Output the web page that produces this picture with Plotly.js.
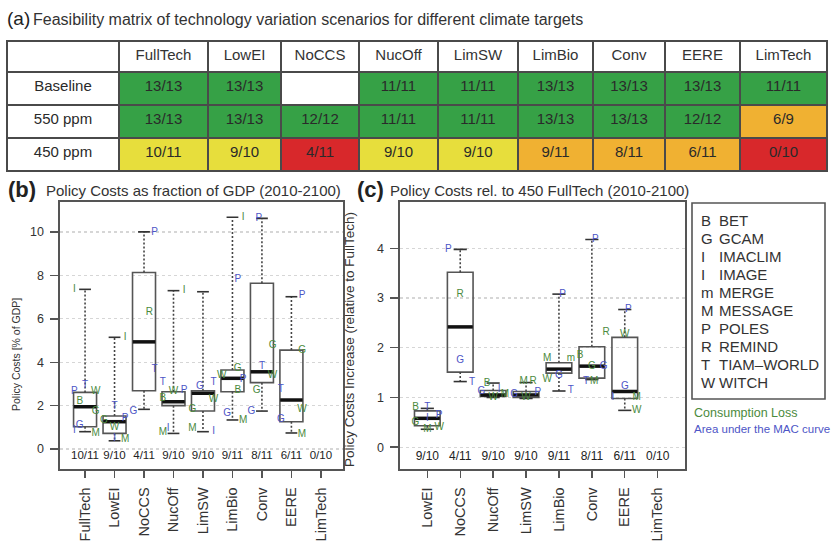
<!DOCTYPE html>
<html><head><meta charset="utf-8">
<script src="https://cdn.plot.ly/plotly-3.0.1.min.js"></script>
<style>html,body{margin:0;padding:0;background:#fff}#chart{width:840px;height:543px}</style>
</head><body><div id="chart"></div>
<script>
// ---------- DATA ----------
const scenarios = ["FullTech","LowEI","NoCCS","NucOff","LimSW","LimBio","Conv","EERE","LimTech"];
const targets = ["Baseline","550 ppm","450 ppm"];
const feasBaseline = ["13/13","13/13","","11/11","11/11","13/13","13/13","13/13","11/11"];
const feas550 = ["13/13","13/13","12/12","11/11","11/11","13/13","13/13","12/12","6/9"];
const feas450 = ["10/11","9/10","4/11","9/10","9/10","9/11","8/11","6/11","0/10"];

// panel (b): policy costs, % of GDP (FullTech..EERE; LimTech has none)
const bLow  = [0.80,0.38,1.83,0.72,0.80,1.34,1.75,0.74];
const bQ1   = [1.03,0.72,2.69,2.00,1.75,2.64,3.06,1.26];
const bMed  = [1.95,1.26,4.94,2.18,2.57,3.26,3.56,2.26];
const bQ3   = [2.61,1.52,8.14,2.64,2.69,3.64,7.64,4.56];
const bHigh = [7.36,5.15,10.01,7.30,7.25,10.68,10.63,7.02];

// panel (c): relative to 450 FullTech (LowEI..EERE; LimTech has none)
const cScen = ["LowEI","NoCCS","NucOff","LimSW","LimBio","Conv","EERE","LimTech"];
const cLow  = [0.36,1.32,1.00,0.98,1.13,1.36,0.74];
const cQ1   = [0.43,1.51,1.02,1.00,1.49,1.39,0.98];
const cMed  = [0.58,2.42,1.05,1.05,1.57,1.63,1.12];
const cQ3   = [0.73,3.52,1.14,1.12,1.70,2.02,2.21];
const cHigh = [0.78,3.98,1.29,1.30,3.08,4.18,2.77];

// model letters, panel (b)
const bLetCat   = [0,0,0,0,0,0,0,0,0, 1,1,1,1,1,1,1, 2,2,2,2, 3,3,3,3,3,3,3, 4,4,4,4,4,4, 5,5,5,5,5,5,5,5, 6,6,6,6,6,6, 7,7,7,7,7,7];
const bLetVal   = [7.36,2.95,2.64,2.64,2.2,1.72,1.1,0.87,0.72, 5.15,1.95,1.42,1.3,1.0,0.5,0.42, 10.0,6.28,3.67,1.75, 7.3,3.08,2.64,2.72,2.35,0.95,0.78, 3.07,2.87,2.3,1.8,0.95,0.8, 10.68,7.82,3.72,3.4,3.2,2.69,1.65,1.3, 10.63,4.75,3.82,3.4,2.72,1.75, 7.06,4.56,2.75,1.8,1.34,0.69];
const bLetModel = ["I","T","P","W","B","G","G","I","M", "I","T","P","G","W","I","M", "P","R","T","G", "I","T","W","P","B","I","M", "T","G","W","G","M","I", "I","P","G","W","P","B","G","M", "P","G","T","W","G","G", "P","G","T","W","G","M"];
const bLetKind  = ["c","m","m","c","c","c","m","m","c", "c","m","m","c","c","m","c", "m","c","m","m", "c","m","c","m","c","m","c", "m","m","c","c","c","m", "c","m","c","c","m","c","m","c", "m","c","m","c","c","m", "m","c","m","c","m","c"];

// model letters, panel (c)
const cLetCat   = [0,0,0,0,0,0,0, 1,1,1,1, 2,2,2,2,2, 3,3,3,3,3, 4,4,4,4,4,4, 5,5,5,5,5,5,5, 6,6,6,6,6,6];
const cLetVal   = [0.80,0.80,0.64,0.58,0.50,0.40,0.36, 3.98,3.08,1.74,1.3, 1.28,1.12,1.15,1.05,1.0, 1.32,1.32,1.1,1.05,1.0, 3.08,1.79,1.79,1.45,1.37,1.14, 4.18,2.3,1.85,1.62,1.62,1.32,1.32, 2.77,2.26,1.22,1.0,1.0,0.74];
const cLetModel = ["B","T","P","I","G","W","M", "P","R","G","T", "B","G","I","M","W", "M","R","P","G","W", "P","M","m","G","W","T", "P","R","B","G","G","T","M", "P","W","G","I","M","W"];
const cLetKind  = ["c","m","m","m","c","c","c", "m","c","m","m", "c","m","m","c","c", "c","c","m","m","c", "m","c","c","m","c","m", "m","c","c","c","m","m","c", "m","c","m","m","c","c"];

const legendCodes = ["B","G","I","I","m","M","P","R","T","W"];
const legendNames = ["BET","GCAM","IMACLIM","IMAGE","MERGE","MESSAGE","POLES","REMIND","TIAM\u2013WORLD","WITCH"];

// ---------- LAYOUT HELPERS (positions / styles) ----------
const bLetSide = [-1,0,-1,1,-0.5,1,-0.5,-1,1, 1,0,1,-1,0,0,1, 1,0.5,1,-1, 1,-1,0,1,-1,-0.5,-1, 1,-0.3,1,-1,-1,1, 1,0.5,0.5,-1,1,0.5,-0.5,1, -0.3,1,0,1,-0.5,-1, 1,1,-1,1,-1,1];
const cLetSide = [-1,0,1,0,-1,1,0, -1,0,0,1, -0.5,-1,0.5,1,0, -0.2,0.6,1,-1,0, 0.3,-1,1,0,-1,1, 0.3,1.2,-1,0,1,-0.5,0.2, 0.3,0,0,-1,1,1];

const W = 840, H = 543;
const px = x => x / W, py = y => 1 - y / H;
const FONT = '"Liberation Sans", Arial, sans-serif';
const GREEN = '#36a146', YELLOW = '#e7de3c', ORANGE = '#f0b132', RED = '#d8282b';
const LGREEN = '#4b8a3d', LBLUE = '#4d55c6';

function feasColor(s) {
  if (!s) return '#ffffff';
  const p = s.split('/').map(Number);
  const f = p[0] / p[1];
  if (f >= 1) return GREEN;
  if (f >= 0.9) return YELLOW;
  if (f >= 0.5) return ORANGE;
  return RED;
}

const traces = [];

// ---------- (a) table ----------
const cellVals = [targets].concat(scenarios.map((s, i) => [feasBaseline[i], feas550[i], feas450[i]]));
const cellFill = [targets.map(() => '#ffffff')].concat(scenarios.map((s, i) => [feasColor(feasBaseline[i]), feasColor(feas550[i]), feasColor(feas450[i])]));
traces.push({
  type: 'table',
  domain: {x: [px(7), px(827)], y: [py(172), py(41)]},
  columnwidth: [112, 89, 73, 78, 79, 80, 75, 72, 75, 87],
  header: {values: [''].concat(scenarios), height: 31, align: 'center',
    line: {color: '#4a4a4a', width: 2}, fill: {color: '#ffffff'},
    font: {family: FONT, size: 15, color: '#333'}},
  cells: {values: cellVals, height: 33, align: 'center',
    line: {color: '#4a4a4a', width: 2}, fill: {color: cellFill},
    font: {family: FONT, size: 15, color: '#2a2a2a'}}
});

// ---------- box helper ----------
function addBoxes(xa, ya, low, q1, med, q3, high) {
  const idx = q1.map((v, i) => i);
  traces.push({type: 'box', xaxis: xa, yaxis: ya, x: idx, q1: q1, median: med, q3: q3,
    lowerfence: q1, upperfence: q3, width: 0.78, whiskerwidth: 0,
    fillcolor: 'rgba(255,255,255,0)', line: {color: '#555', width: 1.6},
    boxpoints: false, hoverinfo: 'skip', showlegend: false});
  const wx = [], wy = [], cx = [], cy = [], mx = [], my = [];
  idx.forEach(i => {
    wx.push(i, i, null, i, i, null); wy.push(q3[i], high[i], null, q1[i], low[i], null);
    cx.push(i - 0.2, i + 0.2, null, i - 0.2, i + 0.2, null); cy.push(high[i], high[i], null, low[i], low[i], null);
    mx.push(i - 0.38, i + 0.38, null); my.push(med[i], med[i], null);
  });
  traces.push({type: 'scatter', mode: 'lines', xaxis: xa, yaxis: ya, x: wx, y: wy,
    line: {color: '#444', width: 1.6, dash: '2px,2px'}, hoverinfo: 'skip', showlegend: false});
  traces.push({type: 'scatter', mode: 'lines', xaxis: xa, yaxis: ya, x: cx, y: cy,
    line: {color: '#333', width: 1.6}, hoverinfo: 'skip', showlegend: false});
  traces.push({type: 'scatter', mode: 'lines', xaxis: xa, yaxis: ya, x: mx, y: my,
    line: {color: '#111', width: 3.5}, hoverinfo: 'skip', showlegend: false});
}
function addLetters(xa, ya, cat, val, model, kind, side) {
  traces.push({type: 'scatter', mode: 'text', xaxis: xa, yaxis: ya,
    x: cat.map((c, i) => c + side[i] * 0.36), y: val, text: model,
    textfont: {family: FONT, size: 10, color: kind.map(k => k === 'c' ? LGREEN : LBLUE)},
    hoverinfo: 'skip', showlegend: false, cliponaxis: false});
}
function addCounts(xa, ya, labels, yv, size) {
  traces.push({type: 'scatter', mode: 'text', xaxis: xa, yaxis: ya,
    x: labels.map((l, i) => i), y: labels.map(() => yv), text: labels,
    textfont: {family: FONT, size: size, color: '#222'}, hoverinfo: 'skip', showlegend: false});
}

addBoxes('x', 'y', bLow, bQ1, bMed, bQ3, bHigh);
addLetters('x', 'y', bLetCat, bLetVal, bLetModel, bLetKind, bLetSide);
addCounts('x', 'y', feas450, -0.35, 11.5);

addBoxes('x2', 'y2', cLow, cQ1, cMed, cQ3, cHigh);
addLetters('x2', 'y2', cLetCat, cLetVal, cLetModel, cLetKind, cLetSide);
addCounts('x2', 'y2', feas450.slice(1), -0.2, 12);

// ---------- layout ----------
const axLine = {showline: true, mirror: true, linecolor: '#555', linewidth: 1.6, zeroline: false,
  ticks: 'outside', tickcolor: '#555', tickwidth: 1.4, ticklabelstandoff: 4};
const xCommon = Object.assign({}, axLine, {showgrid: false, tickangle: -90, ticklen: 7,
  tickfont: {family: FONT, size: 14.5, color: '#333'}});
const yCommon = Object.assign({}, axLine, {showgrid: true, gridcolor: '#d6d6d6', griddash: 'dot', gridwidth: 1.2,
  ticklen: 8, tickfont: {family: FONT, size: 12.5, color: '#333'}});

const ann = (text, x, y, size, color, extra) => Object.assign({text: text, x: px(x), y: py(y), xref: 'paper', yref: 'paper',
  xanchor: 'left', yanchor: 'middle', showarrow: false, font: {family: FONT, size: size, color: color || '#333'}}, extra || {});

const annotations = [
  ann('(a)', 5, 18, 19, '#222'),
  ann('Feasibility matrix of technology variation scenarios for different climate targets', 31, 19, 16, '#333'),
  ann('<b>(b)</b>', 6, 189, 22, '#222'),
  ann('Policy Costs as fraction of GDP (2010-2100)', 44, 190, 15, '#333'),
  ann('<b>(c)</b>', 355, 189, 22, '#222'),
  ann('Policy Costs rel. to 450 FullTech (2010-2100)', 388, 190, 15, '#333'),
  ann('Policy Costs [% of GDP]', 16, 355, 10.5, '#333', {textangle: -90, xanchor: 'center'}),
  ann('Policy Costs Increase (relative to FullTech)', 349, 340, 13.5, '#333', {textangle: -90, xanchor: 'center'}),
  ann('Consumption Loss', 692, 413, 12.5, LGREEN),
  ann('Area under the MAC curve', 692, 429, 11.5, LBLUE)
];
legendCodes.forEach((c, i) => {
  annotations.push(ann(c, 699, 221 + i * 17.9, 15, '#333'));
  annotations.push(ann(legendNames[i], 717, 221 + i * 17.9, 15, '#333'));
});

const layout = {
  width: W, height: H, margin: {l: 0, r: 0, t: 0, b: 0},
  paper_bgcolor: '#fff', plot_bgcolor: 'rgba(0,0,0,0)', showlegend: false,
  font: {family: FONT, color: '#333'},
  xaxis: Object.assign({}, xCommon, {domain: [px(60), px(343)], range: [-0.85, 8.75], anchor: 'y',
    tickvals: scenarios.map((s, i) => i), ticktext: scenarios}),
  yaxis: Object.assign({}, yCommon, {domain: [py(469), py(201.7)], range: [-0.92, 11.4], anchor: 'x',
    tickvals: [0, 2, 4, 6, 8, 10]}),
  xaxis2: Object.assign({}, xCommon, {domain: [px(400), px(685)], range: [-0.83, 7.83], anchor: 'y2',
    tickvals: cScen.map((s, i) => i), ticktext: cScen}),
  yaxis2: Object.assign({}, yCommon, {domain: [py(469), py(201.7)], range: [-0.44, 4.94], anchor: 'x2',
    tickvals: [0, 1, 2, 3, 4]}),
  shapes: [{type: 'rect', xref: 'paper', yref: 'paper', x0: px(692), x1: px(825), y0: py(399), y1: py(203),
    line: {color: '#555', width: 1.6}, fillcolor: 'rgba(0,0,0,0)'}],
  annotations: annotations
};

Plotly.newPlot('chart', traces, layout, {staticPlot: true, displayModeBar: false});
</script>
</body></html>
